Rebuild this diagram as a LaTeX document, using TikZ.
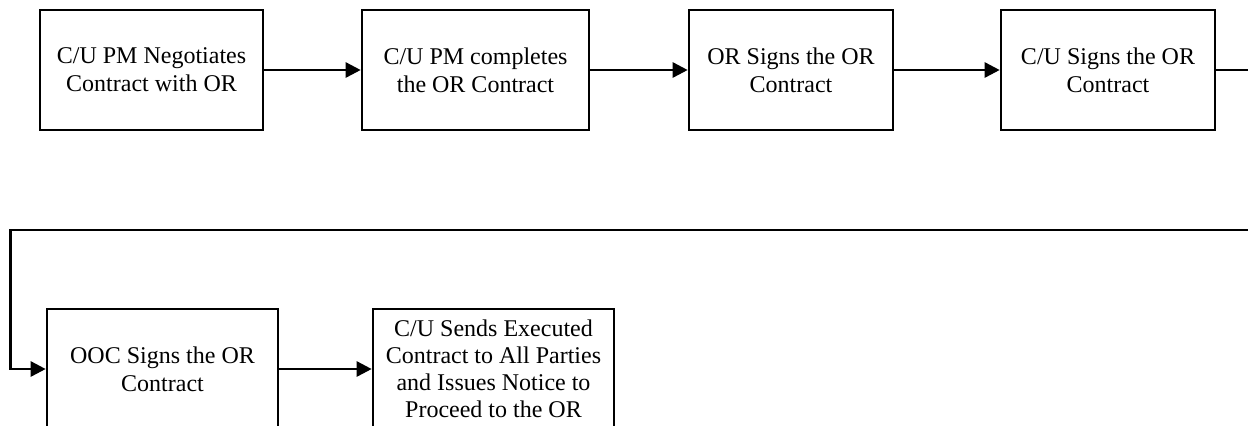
\documentclass[tikz,border=0pt]{standalone}
\usepackage{fontspec}
\setmainfont{Liberation Serif}
\usetikzlibrary{arrows.meta}
\begin{document}
\begin{tikzpicture}[x=0.5pt,y=-0.5pt,
  stepbox/.style={draw=black, line width=1.3pt, align=center, inner sep=0pt,
    font=\fontsize{12}{14}\selectfont, minimum height=60pt},
  flow/.style={line width=1.3pt, -{Triangle[length=7.5pt,width=7.5pt]}},
  plain/.style={line width=1.3pt}]
\clip (0,0) rectangle (1248,425);
\fill[white] (0,0) rectangle (1248,425);
\node[stepbox, minimum width=111.5pt] (b1) at (151.5,70) {C/U PM Negotiates\\Contract with OR};
\node[stepbox, minimum width=113.5pt] (b2) at (475.5,70) {C/U PM completes\\the OR Contract};
\node[stepbox, minimum width=102pt] (b3) at (791,70) {OR Signs the OR\\Contract};
\node[stepbox, minimum width=107pt] (b4) at (1108,70) {C/U Signs the OR\\Contract};
\node[stepbox, minimum width=115.5pt] (b5) at (162.5,369) {OOC Signs the OR\\Contract};
\node[stepbox, minimum width=120.5pt, font=\fontsize{12}{13.5}\selectfont] (b6) at (493.5,369) {C/U Sends Executed\\Contract to All Parties\\and Issues Notice to\\Proceed to the OR};
\coordinate (out) at (1270,70);
\coordinate (in) at (1270,230);
\coordinate (lc) at (10.5,230);
\draw[flow] (b1) -- (b2);
\draw[flow] (b2) -- (b3);
\draw[flow] (b3) -- (b4);
\draw[plain] (b4) -- (out);
\draw[flow] (in) -- (lc) |- (b5.west);
\draw[flow] (b5) -- (b6);
\end{tikzpicture}
\end{document}
